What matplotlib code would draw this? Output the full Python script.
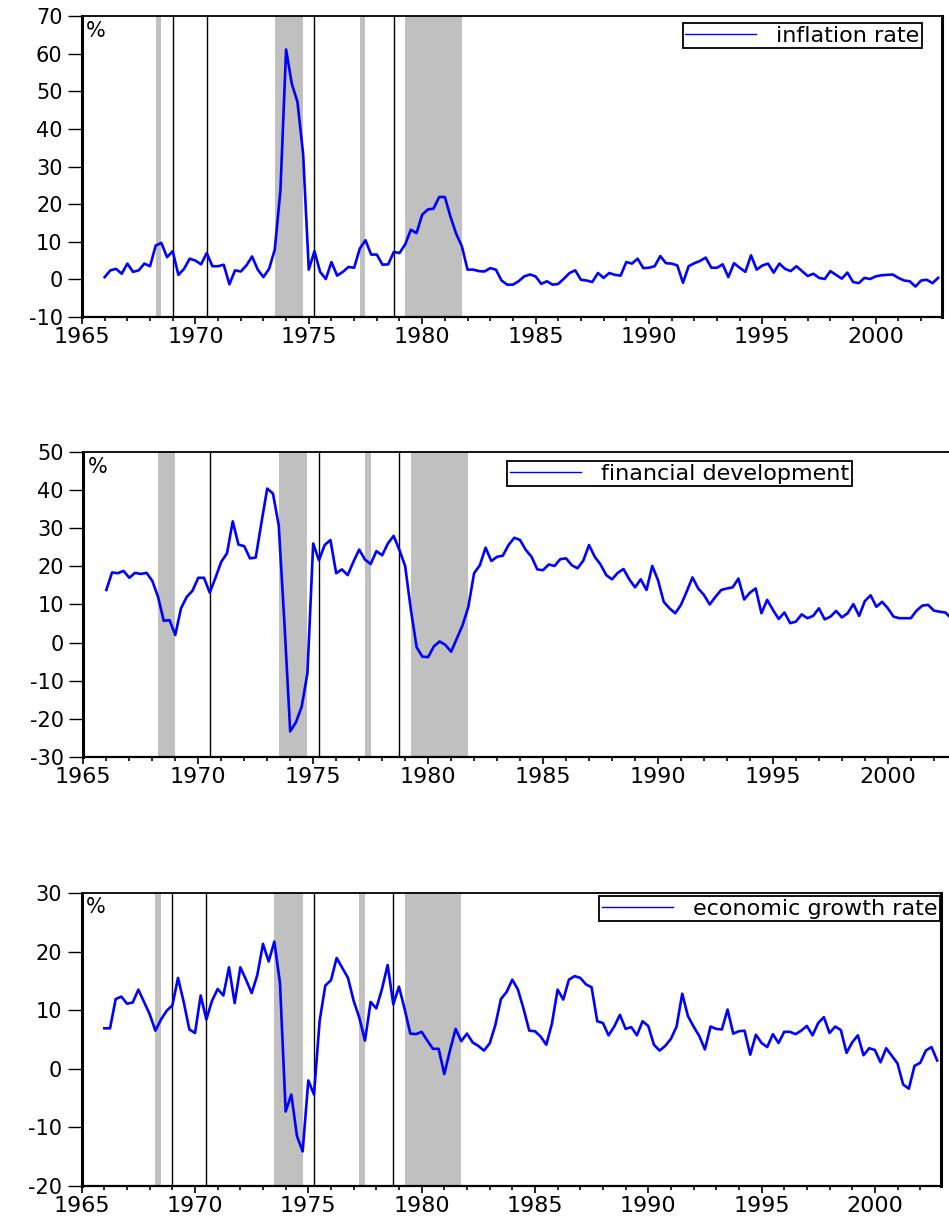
import numpy as np
import matplotlib
matplotlib.use("Agg")
import matplotlib.pyplot as plt

plt.rcParams['font.family'] = ['DejaVu Sans']
plt.rcParams['axes.unicode_minus'] = False

# quarterly series, 1966Q1 - 2002Q4 (%)
inflation = [
    0.6, 2.4, 2.8, 1.5,  4.2, 2.0, 2.4, 4.2,  3.5, 9.0, 9.7, 5.9,  7.5, 1.2, 2.8, 5.5,
    5.0, 4.0, 7.0, 3.5,  3.5, 3.9, -1.3, 2.4,  2.1, 3.7, 6.1, 2.6,  0.6, 2.8, 7.9, 23.7,
    61.1, 52.0, 47.2, 33.4,  2.6, 7.5, 2.0, 0.1,  4.6, 1.0, 2.0, 3.3,  3.1, 8.2, 10.4, 6.6,
    6.6, 3.9, 4.0, 7.3,  7.0, 9.3, 13.2, 12.3,  17.2, 18.6, 18.8, 21.9,  21.9, 16.6, 12.1, 8.8,
    2.6, 2.6, 2.2, 2.1,  3.0, 2.6, -0.3, -1.4,  -1.4, -0.5, 0.8, 1.3,  0.8, -1.2, -0.5, -1.4,
    -1.2, 0.2, 1.7, 2.4,  -0.1, -0.3, -0.7, 1.7,  0.4, 1.7, 1.2, 1.0,  4.6, 4.2, 5.5, 3.0,
    3.1, 3.5, 6.2, 4.3,  4.2, 3.7, -0.9, 3.5,  4.3, 4.9, 5.8, 3.1,  3.1, 4.0, 0.6, 4.3,
    3.1, 2.0, 6.4, 2.6,  3.7, 4.2, 1.8, 4.2,  2.8, 2.2, 3.5, 2.2,  0.9, 1.5, 0.4, 0.1,
    2.2, 1.2, 0.2, 1.8,  -0.7, -1.0, 0.4, 0.1,  0.8, 1.1, 1.2, 1.3,  0.4, -0.3, -0.5, -1.9,
    -0.3, -0.1, -1.0, 0.4,
]
financial = [
    13.8, 18.4, 18.2, 18.8,  17.0, 18.3, 18.0, 18.3,  16.2, 12.0, 5.7, 5.9,  2.0, 9.0, 12.0, 13.6,
    17.0, 17.0, 13.1, 17.0,  21.2, 23.4, 31.8, 25.7,  25.3, 22.1, 22.3, 31.5,  40.4, 39.1, 30.8, 5.0,
    -23.3, -20.9, -16.8, -8.0,  26.0, 21.6, 25.6, 26.9,  18.2, 19.2, 17.7, 21.2,  24.4, 21.8, 20.6, 24.0,
    22.9, 26.0, 28.0, 24.3,  20.1, 8.6, -1.2, -3.7,  -3.8, -1.0, 0.3, -0.6,  -2.4, 1.1, 4.6, 9.4,
    18.2, 20.3, 24.9, 21.4,  22.5, 22.8, 25.6, 27.5,  26.9, 24.3, 22.5, 19.2,  19.0, 20.5, 20.1, 21.9,
    22.1, 20.3, 19.5, 21.5,  25.6, 22.5, 20.5, 17.7,  16.6, 18.3, 19.3, 16.6,  14.5, 16.6, 13.8, 20.1,
    16.4, 10.7, 9.0, 7.7,  9.9, 13.4, 17.1, 14.2,  12.5, 10.0, 12.0, 13.8,  14.2, 14.5, 16.8, 11.3,
    13.1, 14.2, 7.7, 11.2,  8.6, 6.2, 7.9, 5.1,  5.5, 7.4, 6.4, 7.0,  9.0, 6.1, 6.8, 8.3,
    6.6, 7.7, 10.1, 7.0,  10.9, 12.4, 9.4, 10.7,  9.0, 6.8, 6.4, 6.4,  6.4, 8.4, 9.7, 9.9,
    8.4, 8.1, 7.9, 6.4,
]
growth = [
    6.9, 6.9, 11.9, 12.3,  11.1, 11.3, 13.5, 11.4,  9.3, 6.5, 8.4, 9.9,  10.8, 15.5, 11.4, 6.7,
    6.1, 12.5, 8.4, 11.6,  13.6, 12.5, 17.3, 11.2,  17.3, 15.2, 12.9, 16.0,  21.3, 18.3, 21.7, 14.6,
    -7.3, -4.4, -11.5, -14.1,  -2.0, -4.4, 8.2, 14.2,  15.1, 18.9, 17.2, 15.5,  11.6, 8.7, 4.8, 11.4,
    10.3, 13.6, 17.7, 11.0,  14.0, 10.2, 6.0, 5.9,  6.3, 4.8, 3.4, 3.4,  -0.9, 3.1, 6.8, 4.7,
    6.0, 4.5, 3.9, 3.1,  4.3, 7.4, 11.9, 13.1,  15.2, 13.5, 10.2, 6.5,  6.4, 5.5, 4.1, 7.7,
    13.5, 11.8, 15.2, 15.8,  15.5, 14.4, 13.9, 8.1,  7.8, 5.7, 7.2, 9.2,  6.8, 7.1, 5.7, 8.1,
    7.3, 4.1, 3.1, 3.9,  5.1, 7.2, 12.8, 9.0,  7.2, 5.6, 3.3, 7.2,  6.8, 6.7, 10.1, 6.0,
    6.4, 6.5, 2.4, 5.8,  4.4, 3.7, 5.9, 4.4,  6.3, 6.3, 5.9, 6.5,  7.3, 5.7, 7.8, 8.8,
    6.1, 7.2, 6.6, 2.7,  4.5, 5.7, 2.3, 3.5,  3.2, 1.1, 3.5, 2.2,  0.9, -2.7, -3.4, 0.5,
    1.0, 3.1, 3.7, 1.4,
]
labels = ['inflation rate', 'financial development', 'economic growth rate']

# shaded periods and break lines (decimal years)
shades_a = [(1968.25, 1968.5), (1973.5, 1974.75), (1977.25, 1977.5), (1979.25, 1981.75)]
shades_b = [(1968.25, 1969.0), (1973.5, 1974.75), (1977.25, 1977.5), (1979.25, 1981.75)]
breaks_a = [1969.0, 1970.5, 1975.25, 1978.75]
breaks_b = [1970.5, 1975.25, 1978.75]

quarters = 1966 + np.arange(len(inflation)) * 0.25

fig = plt.figure(figsize=(9.49, 12.16), dpi=100)

panels = [
    dict(rect=[0.0864, 0.7393, 0.9062, 0.2475], y=inflation, ylim=(-10, 70),
         shades=shades_a, breaks=breaks_a, leg=dict(loc='upper right', bbox_to_anchor=(0.977, 0.977))),
    dict(rect=[0.0878, 0.3775, 0.9185, 0.2508], y=financial, ylim=(-30, 50),
         shades=shades_b, breaks=breaks_b, leg=dict(loc='upper left', bbox_to_anchor=(0.486, 0.970))),
    dict(rect=[0.0861, 0.0247, 0.9055, 0.2410], y=growth, ylim=(-20, 30),
         shades=shades_a, breaks=breaks_a, leg=dict(loc='upper right', bbox_to_anchor=(0.999, 0.990))),
]

for p, lab in zip(panels, labels):
    ax = fig.add_axes(p['rect'])
    for a, b in p['shades']:
        ax.axvspan(a, b, color='#c0c0c0', lw=0, zorder=0)
    for x in p['breaks']:
        ax.axvline(x, color='black', lw=1.0, zorder=1)
    ax.plot(quarters, p['y'], color='#0000ff', lw=1.9, label=lab, zorder=3)

    ax.set_xlim(1965, 2002.92)
    ax.set_ylim(*p['ylim'])
    ax.set_yticks(np.arange(p['ylim'][0], p['ylim'][1] + 1, 10))
    ax.set_xticks(np.arange(1965, 2001, 5))
    ax.set_xticks(np.arange(1965, 2003, 1), minor=True)

    ax.tick_params(axis='y', direction='out', length=10, width=1, labelsize=15, pad=4)
    ax.tick_params(axis='x', which='major', direction='out', length=5, width=1.2, labelsize=16, pad=2)
    ax.tick_params(axis='x', which='minor', direction='out', length=3, width=1.2)

    ax.spines['left'].set_linewidth(2.2)
    ax.spines['right'].set_linewidth(2.2)
    ax.spines['top'].set_linewidth(1.3)
    ax.spines['bottom'].set_linewidth(1.6)

    ax.text(0.005, 0.985, '%', transform=ax.transAxes, ha='left', va='top', fontsize=15)

    leg = ax.legend(fontsize=16, handlelength=3.2, borderpad=0.12, handletextpad=0.9,
                    borderaxespad=0, fancybox=False, framealpha=1, **p['leg'])
    leg.get_frame().set_edgecolor('black')
    leg.get_frame().set_linewidth(1.3)
    for h in leg.get_lines():
        h.set_linewidth(1.0)

fig.savefig('out.png', dpi=100)
